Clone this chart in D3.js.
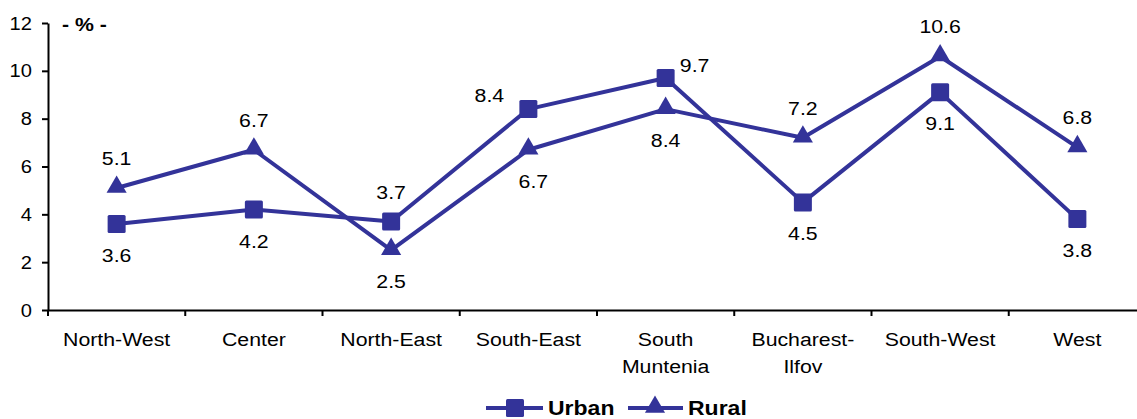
<!DOCTYPE html>
<html><head><meta charset="utf-8">
<script src="https://cdn.jsdelivr.net/npm/d3@7"></script>
<style>
html,body{margin:0;padding:0;background:#fff;}
svg{display:block;font-family:"Liberation Sans",Arial,sans-serif;}
</style></head>
<body>
<svg id="c" width="1137" height="419"></svg>
<script>
const categories = [["North-West"],["Center"],["North-East"],["South-East"],["South","Muntenia"],["Bucharest-","Ilfov"],["South-West"],["West"]];
const urban = [3.6,4.2,3.7,8.4,9.7,4.5,9.1,3.8];
const rural = [5.1,6.7,2.5,6.7,8.4,7.2,10.6,6.8];
const yTicks = [0,2,4,6,8,10,12];
// label placement per point
const urbanPos = ["below","below","above","upleft","upright","below","below","below"];
const ruralPos = ["above","above","below","belowright","below","above","above","above"];

(function(){
const color = "#333399";
const SX = 1.12;
const svg = d3.select("#c");
const mLeft = 48, mRight = 1146, mTop = 23, mBottom = 310;
const keys = d3.range(categories.length);
const x = d3.scaleBand().domain(keys).range([mLeft, mRight]);
const y = d3.scaleLinear().domain([0,12]).range([mBottom, mTop]);
const cx = i => x(i) + x.bandwidth()/2;

function txt(g, px, py, s, opts){
  opts = opts || {};
  return g.append("text").attr("x",0).attr("y",0)
    .attr("transform",`translate(${px},${py}) scale(${opts.sx||SX},1)`)
    .attr("text-anchor",opts.anchor||"middle")
    .attr("font-size",opts.size||19)
    .attr("font-weight",opts.bold?"bold":"normal")
    .attr("fill","#000").text(s);
}

const yAxis = d3.axisLeft(y).tickValues(yTicks).tickSize(6).tickSizeOuter(0).tickPadding(10);
const gy = svg.append("g").attr("transform",`translate(${mLeft},0)`).call(yAxis);
gy.select(".domain").attr("stroke","#000").attr("stroke-width",2);
gy.selectAll(".tick line").attr("stroke","#000").attr("stroke-width",2);
gy.selectAll(".tick text").attr("font-size",19).attr("fill","#000")
  .attr("font-family","Liberation Sans, Arial, sans-serif")
  .attr("x",0).attr("transform",`translate(-16,0) scale(1.06,1)`);

const xAxis = d3.axisBottom(x).tickValues([]).tickSizeOuter(0);
const gx = svg.append("g").attr("transform",`translate(0,${mBottom})`).call(xAxis);
gx.select(".domain").attr("stroke","#000").attr("stroke-width",2);
svg.append("g").selectAll("line").data(d3.range(categories.length+1)).join("line")
  .attr("x1",i=> mLeft + i*x.step()).attr("x2",i=> mLeft + i*x.step())
  .attr("y1",mBottom).attr("y2",mBottom+6).attr("stroke","#000").attr("stroke-width",2);

const gc = svg.append("g");
categories.forEach((lines,i)=>{
  lines.forEach((t,j)=> txt(gc, cx(i), 346 + j*27, t));
});

txt(svg, 62, 31, "- % -", {anchor:"start", bold:true});

const line = d3.line().x((d,i)=>cx(i)).y(d=>y(d));
svg.append("path").datum(urban).attr("d",line).attr("fill","none").attr("stroke",color).attr("stroke-width",4).attr("stroke-linejoin","round");
svg.append("path").datum(rural).attr("d",line).attr("fill","none").attr("stroke",color).attr("stroke-width",4).attr("stroke-linejoin","round");

const S = 18;
const tri = d3.symbol().type(d3.symbolTriangle).size(175);
svg.append("g").selectAll("rect").data(urban).join("rect")
  .attr("x",(d,i)=>cx(i)-S/2).attr("y",d=>y(d)-S/2).attr("width",S).attr("height",S).attr("rx",1.5)
  .attr("fill",color);
svg.append("g").selectAll("path").data(rural).join("path")
  .attr("d",tri).attr("transform",(d,i)=>`translate(${cx(i)},${y(d)-1})`).attr("fill",color);

const offs = {below:[0,38], above:[0,-23], upleft:[-39,-7], upright:[29,-6], belowright:[5,38]};
function labels(data,pos){
  const g = svg.append("g");
  data.forEach((d,i)=> txt(g, cx(i)+offs[pos[i]][0], y(d)+offs[pos[i]][1], d.toFixed(1)));
}
labels(urban,urbanPos);
labels(rural,ruralPos);

const lg = svg.append("g");
lg.append("line").attr("x1",486).attr("x2",543).attr("y1",408).attr("y2",408).attr("stroke",color).attr("stroke-width",4);
lg.append("rect").attr("x",515-S/2).attr("y",408-S/2).attr("width",S).attr("height",S).attr("rx",1.5).attr("fill",color);
txt(lg, 548, 415, "Urban", {anchor:"start", bold:true, size:20, sx:1.15});
lg.append("line").attr("x1",628).attr("x2",683).attr("y1",408).attr("y2",408).attr("stroke",color).attr("stroke-width",4);
lg.append("path").attr("d",tri).attr("transform","translate(655,407)").attr("fill",color);
txt(lg, 688, 415, "Rural", {anchor:"start", bold:true, size:20, sx:1.15});
})();
</script>
</body></html>
